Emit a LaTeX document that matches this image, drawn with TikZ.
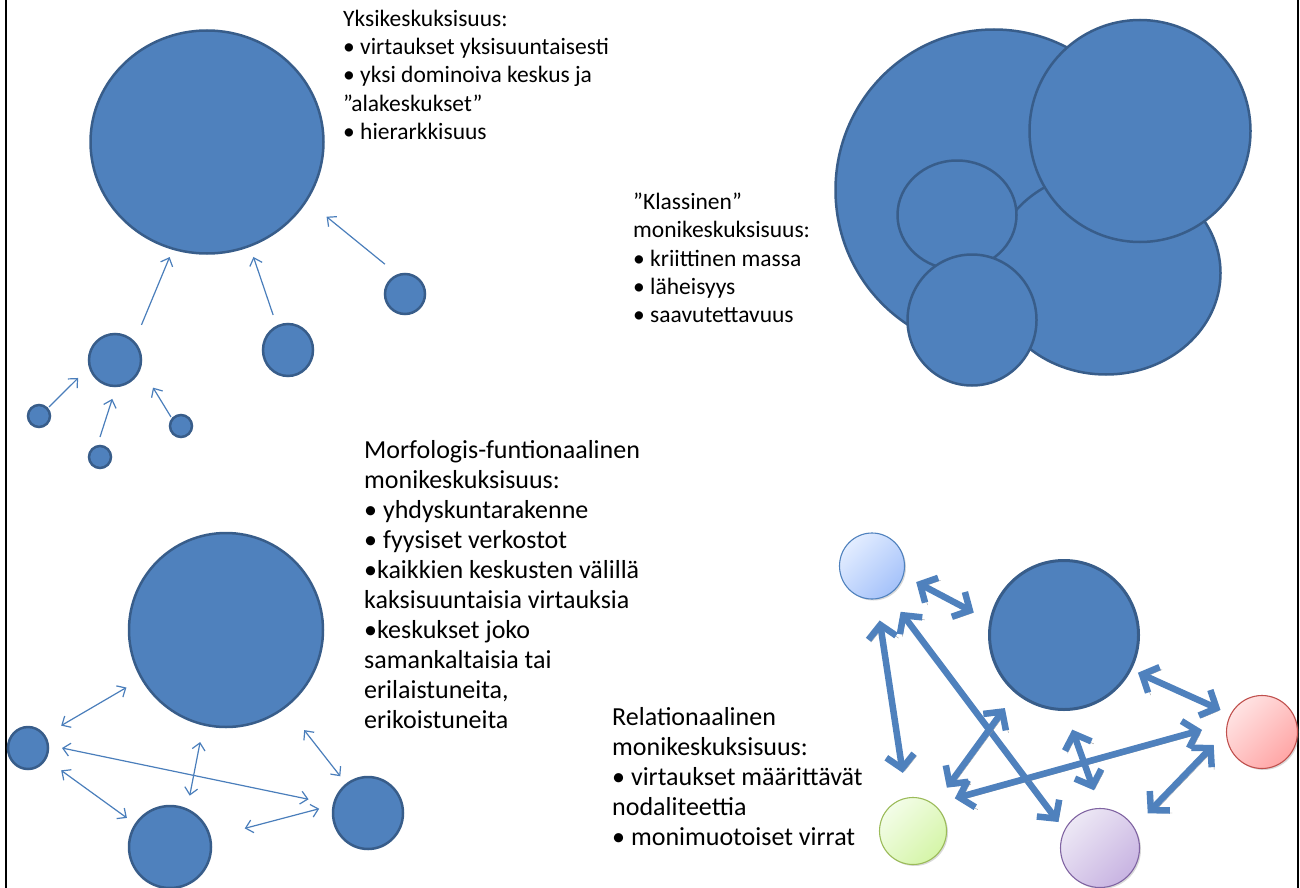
\documentclass[tikz,border=0pt]{standalone}
\usepackage{fontspec}
\setmainfont{Carlito}
\usetikzlibrary{arrows.meta,shapes.geometric,shadows}
\definecolor{cfill}{HTML}{4F81BD}
\definecolor{cline}{HTML}{385D8A}
\definecolor{cthin}{HTML}{4A7EBB}
\definecolor{lbA}{HTML}{E3EDFF}
\definecolor{lbB}{HTML}{A5C2FA}
\definecolor{rdA}{HTML}{FFE3E3}
\definecolor{rdB}{HTML}{FFA6A6}
\definecolor{rdC}{HTML}{C0504D}
\definecolor{grA}{HTML}{F3FDE8}
\definecolor{grB}{HTML}{D5F5A8}
\definecolor{grC}{HTML}{9BBB59}
\definecolor{puA}{HTML}{EDE8F5}
\definecolor{puB}{HTML}{C8B4E2}
\definecolor{puC}{HTML}{8064A2}
\begin{document}
\begin{tikzpicture}[x=1pt,y=-1pt,
  blob/.style={ellipse,draw=cline,fill=cfill,line width=2.5pt,inner sep=0pt},
  ball/.style={ellipse,inner sep=0pt,line width=1.1pt,shading angle=45,
    drop shadow={shadow xshift=1.5pt,shadow yshift=-1.5pt,opacity=0.3}},
  flow/.style={draw=cthin,line width=1.2pt,-{Straight Barb[length=7pt,width=13pt]}},
  flows/.style={draw=cthin,line width=1.2pt,{Straight Barb[length=7pt,width=13pt]}-{Straight Barb[length=7pt,width=13pt]}},
  fat/.style={draw=cfill,line width=6.5pt,{Straight Barb[length=13pt,width=28pt]}-{Straight Barb[length=13pt,width=28pt]},
    preaction={draw=black!40,transform canvas={shift={(2.5pt,-2.5pt)}}}},
  txt/.style={anchor=north west,align=left,inner sep=0pt,font=\fontsize{23.5}{28.2}\selectfont},
  txtb/.style={anchor=north west,align=left,inner sep=0pt,font=\fontsize{26}{30}\selectfont}]
\useasboundingbox (0,0) rectangle (1300,888);
\draw[line width=2pt] (6,0) -- (6,888);
\draw[line width=2pt] (1298,0) -- (1298,888);

\node[blob,minimum width=233pt,minimum height=223pt] (hub) at (207,142) {};
\node[blob,minimum width=40pt,minimum height=40pt] (sa) at (405,294) {};
\node[blob,minimum width=50pt,minimum height=52pt] (sb) at (288,350) {};
\node[blob,minimum width=52pt,minimum height=52pt] (sc) at (115,360) {};
\node[blob,minimum width=22pt,minimum height=22pt] (ta) at (39,416) {};
\node[blob,minimum width=22pt,minimum height=22pt] (tb) at (181,426) {};
\node[blob,minimum width=22pt,minimum height=22pt] (tc) at (100,457) {};
\draw[flow] ([shift={(-53:44)}]sc.center) -- ([shift={(108:121)}]hub.center);
\draw[flow] ([shift={(-113:38)}]sb.center) -- ([shift={(68:124)}]hub.center);
\draw[flow] ([shift={(-124:36)}]sa.center) -- ([shift={(32:141)}]hub.center);
\draw[flow] ([shift={(-42:13.5)}]ta.center) -- ([shift={(154:41)}]sc.center);
\draw[flow] ([shift={(-90:20)}]tc.center) -- ([shift={(94:39)}]sc.center);
\draw[flow] ([shift={(-138:13.5)}]tb.center) -- ([shift={(36:47)}]sc.center);
\node[txt] (single) at (343,10) {Yksikeskuksisuus:\\• virtaukset yksisuuntaisesti\\• yksi dominoiva keskus ja\\”alakeskukset”\\• hierarkkisuus};

\node[blob,minimum width=317pt,minimum height=321pt] (mA) at (994,190) {};
\node[blob,minimum width=229pt,minimum height=203pt] (mB) at (1106,273) {};
\node[blob,minimum width=119pt,minimum height=109pt] (mD) at (957,215) {};
\node[blob,minimum width=221pt,minimum height=222pt] (mC) at (1140,131) {};
\node[blob,minimum width=129pt,minimum height=131pt] (mE) at (972,320) {};
\node[txt] (classic) at (633,193) {”Klassinen”\\monikeskuksisuus:\\• kriittinen massa\\• läheisyys\\• saavutettavuus};

\node[blob,minimum width=194pt,minimum height=194pt] (core) at (226,630) {};
\node[blob,minimum width=40pt,minimum height=42pt] (wa) at (28,748) {};
\node[blob,minimum width=82pt,minimum height=82pt] (wb) at (170,847) {};
\node[blob,minimum width=70pt,minimum height=72pt] (wc) at (368,813) {};
\draw[flows] ([shift={(-34:40)}]wa.center) -- ([shift={(150:115)}]core.center);
\draw[flows] ([shift={(0:34)}]wa.center) -- ([shift={(-167:61)}]wc.center);
\draw[flows] ([shift={(34:40)}]wa.center) -- ([shift={(-146:52)}]wb.center);
\draw[flows] ([shift={(103:115)}]core.center) -- ([shift={(-69:55)}]wb.center);
\draw[flows] ([shift={(52:127)}]core.center) -- ([shift={(-127:46)}]wc.center);
\draw[flows] ([shift={(-14:77)}]wb.center) -- ([shift={(185:49)}]wc.center);
\node[txtb] (morpho) at (364,440) {Morfologis-funtionaalinen\\monikeskuksisuus:\\• yhdyskuntarakenne\\• fyysiset verkostot\\•kaikkien keskusten välillä\\kaksisuuntaisia virtauksia\\•keskukset joko\\samankaltaisia tai\\erilaistuneita,\\erikoistuneita};

\node[ball,draw=cfill,top color=lbA,bottom color=lbB,shading angle=45,minimum width=65pt,minimum height=66pt] (lb) at (872,566) {};
\node[blob,line width=3pt,minimum width=149pt,minimum height=149pt] (hubr) at (1064,635) {};
\node[ball,draw=rdC,top color=rdA,bottom color=rdB,shading angle=45,minimum width=71pt,minimum height=73pt] (rd) at (1262,732) {};
\node[ball,draw=grC,top color=grA,bottom color=grB,shading angle=45,minimum width=67pt,minimum height=67pt] (gr) at (913,831) {};
\node[ball,draw=puC,top color=puA,bottom color=puB,shading angle=45,minimum width=79pt,minimum height=79pt] (pu) at (1100,848) {};
\draw[fat] ([shift={(20:47)}]lb.center) -- ([shift={(-166:93)}]hubr.center);
\draw[fat] ([shift={(82:55)}]lb.center) -- ([shift={(-100:59)}]gr.center);
\draw[fat] ([shift={(58:54)}]lb.center) -- ([shift={(-148:49)}]pu.center);
\draw[fat] ([shift={(27:83)}]hubr.center) -- ([shift={(-152:47)}]rd.center);
\draw[fat] ([shift={(-52:55)}]gr.center) -- ([shift={(129:94)}]hubr.center);
\draw[fat] ([shift={(-38:53)}]gr.center) -- ([shift={(-178:60)}]rd.center);
\draw[fat] ([shift={(85:95)}]hubr.center) -- ([shift={(-96:58)}]pu.center);
\draw[fat] ([shift={(-36:59)}]pu.center) -- ([shift={(165:50)}]rd.center);
\node[txtb] (relation) at (612,707) {Relationaalinen\\monikeskuksisuus:\\• virtaukset määrittävät\\nodaliteettia\\• monimuotoiset virrat};
\end{tikzpicture}
\end{document}
